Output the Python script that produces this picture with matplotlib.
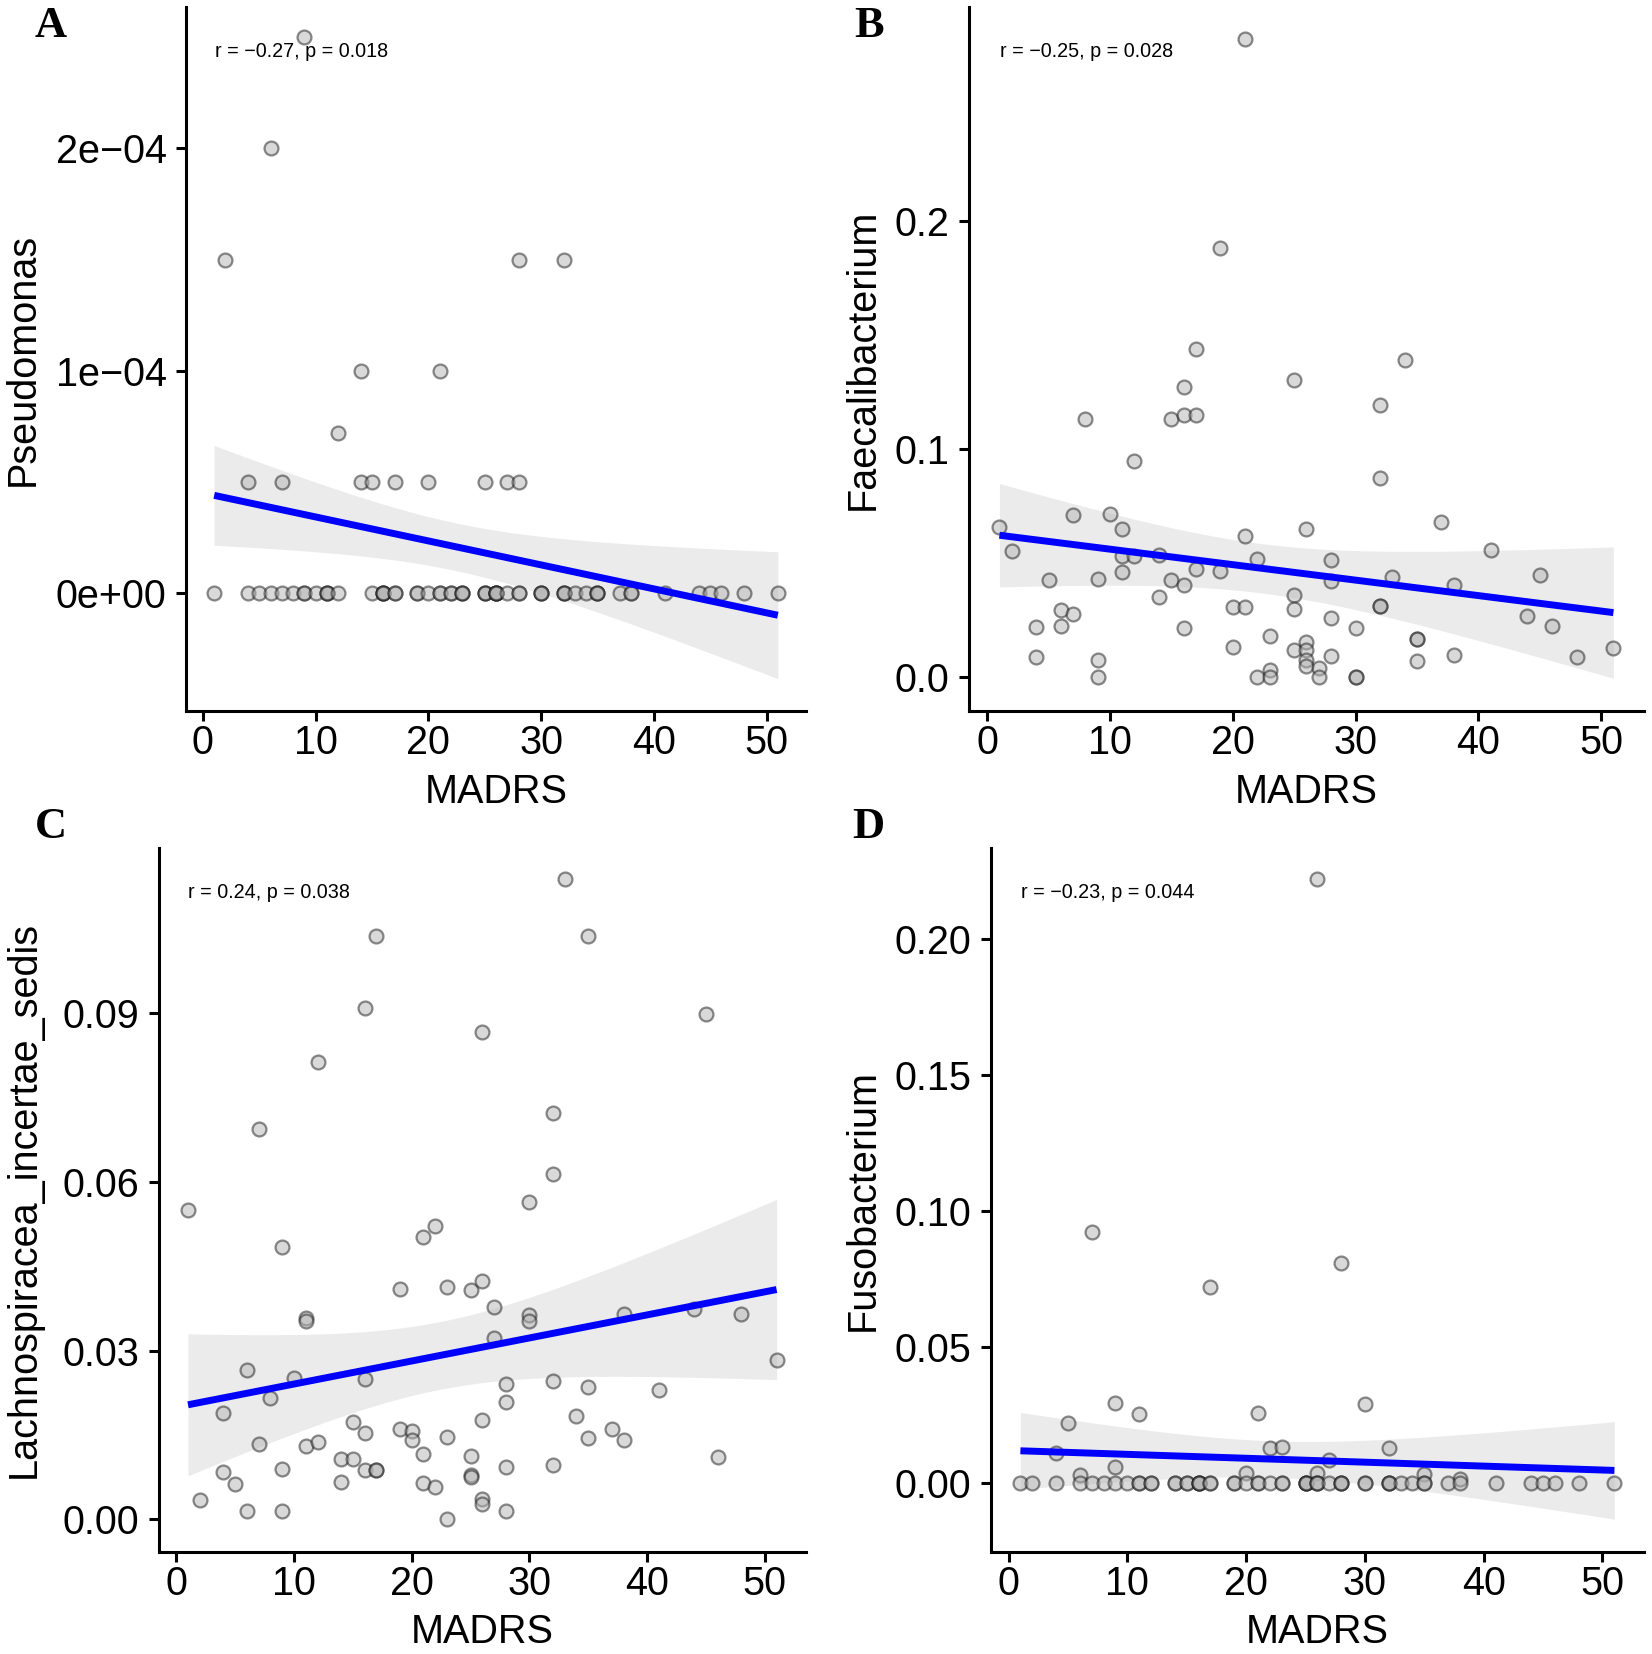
import matplotlib
matplotlib.use('Agg')
import matplotlib.pyplot as plt
import numpy as np

plt.rcParams['font.family'] = ['Liberation Sans', 'DejaVu Sans']

# ---- data (MADRS score vs relative abundance) ----
# A: Pseudomonas
pseudo_x = [9, 6, 2, 28, 32, 14, 21, 12, 4, 7, 14, 15, 17, 20, 25, 27, 28,
            1, 4, 5, 6, 7, 8, 9, 9, 10, 11, 11, 11, 12, 15, 16, 16, 16, 16,
            17, 17, 19, 19, 20, 21, 21, 22, 22, 23, 23, 23, 25, 25, 25, 26,
            26, 26, 26, 26, 27, 28, 28, 30, 30, 30, 32, 32, 32, 33, 34, 35,
            35, 35, 37, 38, 38, 41, 44, 45, 46, 48, 51]
pseudo_y = [2.5e-4, 2e-4, 1.5e-4, 1.5e-4, 1.5e-4, 1e-4, 1e-4, 0.72e-4,
            0.5e-4, 0.5e-4, 0.5e-4, 0.5e-4, 0.5e-4, 0.5e-4, 0.5e-4, 0.5e-4, 0.5e-4,
            0, 0, 0, 0, 0, 0, 0, 0, 0, 0, 0, 0, 0, 0, 0, 0, 0, 0,
            0, 0, 0, 0, 0, 0, 0, 0, 0, 0, 0, 0, 0, 0, 0, 0,
            0, 0, 0, 0, 0, 0, 0, 0, 0, 0, 0, 0, 0, 0, 0, 0,
            0, 0, 0, 0, 0, 0, 0, 0, 0, 0, 0]

# B: Faecalibacterium
faec_x = [1, 2, 4, 4, 5, 6, 6, 7, 7, 8, 9, 9, 9, 10, 11, 11, 11, 12, 12, 14,
          14, 15, 15, 16, 16, 16, 16, 17, 17, 17, 19, 19, 20, 20, 21, 21, 21,
          22, 22, 23, 23, 23, 25, 25, 25, 25, 26, 26, 26, 26, 26, 27, 27, 28,
          28, 28, 28, 30, 30, 30, 32, 32, 32, 32, 33, 34, 35, 35, 35, 37, 38,
          38, 41, 44, 45, 46, 48, 51]
faec_y = [0.0656, 0.055, 0.0218, 0.0086, 0.0426, 0.0295, 0.0222, 0.0276, 0.0708,
          0.113, 0.043, 0.0072, 0.0, 0.0714, 0.065, 0.053, 0.0458, 0.0528, 0.0947,
          0.0536, 0.035, 0.113, 0.0426, 0.127, 0.1146, 0.0404, 0.0215, 0.1437,
          0.1146, 0.0474, 0.188, 0.0463, 0.0307, 0.013, 0.2795, 0.0616, 0.0307,
          0.0517, 0.0, 0.0178, 0.003, 0.0, 0.130, 0.0358, 0.0298, 0.0117, 0.065,
          0.0153, 0.0117, 0.0073, 0.0047, 0.004, 0.0, 0.0514, 0.042, 0.0258,
          0.0093, 0.0215, 0.0, 0.0, 0.119, 0.0872, 0.031, 0.031, 0.0437, 0.139,
          0.0164, 0.0164, 0.0069, 0.068, 0.0404, 0.0095, 0.0558, 0.0266, 0.0448,
          0.0222, 0.0088, 0.0127]

# C: Lachnospiracea_incertae_sedis
lach_x = [33, 17, 35, 16, 45, 26, 12, 7, 32, 32, 1, 30, 22, 21, 9, 19, 23, 25,
          26, 27, 11, 11, 30, 30, 38, 44, 48, 27, 51, 6, 10, 16, 28, 32, 35, 41,
          8, 28, 4, 34, 15, 26, 19, 20, 16, 20, 37, 23, 35, 38, 7, 11, 12, 21,
          25, 46, 14, 15, 4, 9, 16, 17, 17, 28, 32, 25, 25, 5, 14, 21, 22, 2,
          26, 26, 6, 9, 28, 23]
lach_y = [0.1139, 0.1038, 0.1038, 0.0909, 0.0898, 0.0866, 0.0813, 0.0695, 0.0723,
          0.0615, 0.0551, 0.0564, 0.0521, 0.0503, 0.0484, 0.0409, 0.0414, 0.0408,
          0.0424, 0.0378, 0.0359, 0.0353, 0.0363, 0.0353, 0.0366, 0.0374, 0.0365,
          0.0322, 0.0283, 0.0266, 0.0251, 0.0249, 0.024, 0.0247, 0.0235, 0.023,
          0.0215, 0.0208, 0.019, 0.0184, 0.0174, 0.0177, 0.016, 0.0157, 0.0154,
          0.0142, 0.016, 0.0146, 0.0144, 0.0142, 0.0134, 0.013, 0.0137, 0.0116,
          0.0113, 0.0111, 0.0108, 0.0107, 0.0084, 0.0089, 0.0088, 0.0088, 0.0088,
          0.0094, 0.0097, 0.0079, 0.0075, 0.0063, 0.0067, 0.0064, 0.0057, 0.0034,
          0.0036, 0.0027, 0.0015, 0.0015, 0.0015, 0.0]

# D: Fusobacterium
fuso_x = [26, 7, 17, 28, 9, 30, 11, 21, 5, 22, 23, 32, 4, 27, 9, 6, 20, 26, 35, 38,
          1, 2, 4, 6, 7, 8, 9, 10, 11, 11, 12, 12, 14, 14, 15, 15, 16, 16, 16, 16,
          17, 17, 19, 19, 20, 21, 21, 22, 23, 23, 25, 25, 25, 25, 26, 26, 26, 27,
          28, 28, 28, 30, 30, 32, 32, 32, 33, 34, 35, 35, 37, 38, 41, 44, 45, 46,
          48, 51]
fuso_y = [0.222, 0.0923, 0.0718, 0.0806, 0.0292, 0.0288, 0.0252, 0.0255, 0.0218,
          0.0126, 0.0132, 0.0129, 0.011, 0.0083, 0.0059, 0.0028, 0.0037, 0.0037,
          0.0032, 0.0012,
          0, 0, 0, 0, 0, 0, 0, 0, 0, 0, 0, 0, 0, 0, 0, 0, 0, 0, 0, 0,
          0, 0, 0, 0, 0, 0, 0, 0, 0, 0, 0, 0, 0, 0, 0, 0, 0, 0,
          0, 0, 0, 0, 0, 0, 0, 0, 0, 0, 0, 0, 0, 0, 0, 0, 0, 0, 0, 0]

x_ticks = [0, 10, 20, 30, 40, 50]

panels = [
    dict(x=pseudo_x, y=pseudo_y, label='A', ylabel='Pseudomonas',
         yticks=[0, 1e-4, 2e-4], yticklabels=['0e+00', '1e\u221204', '2e\u221204'],
         ylim=(-0.533e-4, 2.637e-4), stat='r = \u22120.27, p = 0.018',
         rect=[0.1126, 0.570, 0.3753, 0.4258], ylab_x=-0.2626,
         letter_xy=(0.0212, 0.9845)),
    dict(x=faec_x, y=faec_y, label='B', ylabel='Faecalibacterium',
         yticks=[0.0, 0.1, 0.2], yticklabels=['0.0', '0.1', '0.2'],
         ylim=(-0.01507, 0.2936), stat='r = \u22120.25, p = 0.028',
         rect=[0.5864, 0.570, 0.4088, 0.4258], ylab_x=-0.1565,
         letter_xy=(0.5173, 0.9845)),
    dict(x=lach_x, y=lach_y, label='C', ylabel='Lachnospiracea_incertae_sedis',
         yticks=[0.0, 0.03, 0.06, 0.09], yticklabels=['0.00', '0.03', '0.06', '0.09'],
         ylim=(-0.00576, 0.1194), stat='r = 0.24, p = 0.038',
         rect=[0.096, 0.0618, 0.3919, 0.4255], ylab_x=-0.209,
         letter_xy=(0.0212, 0.4998)),
    dict(x=fuso_x, y=fuso_y, label='D', ylabel='Fusobacterium',
         yticks=[0.0, 0.05, 0.10, 0.15, 0.20],
         yticklabels=['0.00', '0.05', '0.10', '0.15', '0.20'],
         ylim=(-0.02537, 0.2333), stat='r = \u22120.23, p = 0.044',
         rect=[0.5997, 0.0618, 0.3955, 0.4255], ylab_x=-0.1955,
         letter_xy=(0.516, 0.4998)),
]

T_CRIT = 1.992  # t quantile, 95% CI, df ~ 76


def lm_band(x, y):
    x = np.asarray(x, float)
    y = np.asarray(y, float)
    n = len(x)
    xm = x.mean()
    sxx = ((x - xm) ** 2).sum()
    b1 = ((x - xm) * (y - y.mean())).sum() / sxx
    b0 = y.mean() - b1 * xm
    s = np.sqrt(((y - b0 - b1 * x) ** 2).sum() / (n - 2))
    xg = np.linspace(x.min(), x.max(), 80)
    yg = b0 + b1 * xg
    se = s * np.sqrt(1.0 / n + (xg - xm) ** 2 / sxx)
    return xg, yg, yg - T_CRIT * se, yg + T_CRIT * se


fig = plt.figure(figsize=(16.52, 16.54), dpi=100)

for p in panels:
    ax = fig.add_axes(p['rect'])
    xg, yg, lo, hi = lm_band(p['x'], p['y'])
    ax.fill_between(xg, lo, hi, color='#ebebeb', lw=0, zorder=1)
    ax.scatter(p['x'], p['y'], s=100, c='#b4b4b4', edgecolors='#1a1a1a',
               linewidths=1.6, alpha=0.5, zorder=2)
    ax.plot(xg, yg, color='#0000ff', lw=5, zorder=3, solid_capstyle='butt')

    ax.set_xlim(-1.5, 53.5)
    ax.set_ylim(*p['ylim'])
    ax.set_xticks(x_ticks)
    ax.set_yticks(p['yticks'])
    ax.set_yticklabels(p['yticklabels'])
    for side in ['top', 'right']:
        ax.spines[side].set_visible(False)
    for side in ['left', 'bottom']:
        ax.spines[side].set_linewidth(2.2)
    ax.tick_params(axis='both', length=7, width=2.2, labelsize=28.5, color='black')
    ax.tick_params(axis='x', pad=2.5)
    ax.tick_params(axis='y', pad=7)

    ax.text(0.5, -0.114, 'MADRS', transform=ax.transAxes, ha='center',
            va='center', fontsize=28.5)
    ax.text(p['ylab_x'], 0.5, p['ylabel'], transform=ax.transAxes, rotation=90,
            ha='center', va='center', fontsize=28.5)
    ax.text(0.046, 0.937, p['stat'], transform=ax.transAxes, ha='left',
            va='center', fontsize=14.2)

    fig.text(p['letter_xy'][0], p['letter_xy'][1], p['label'], ha='left',
             va='center', fontsize=32, fontweight='bold', family='Liberation Serif')

fig.savefig('out.png', dpi=100)
